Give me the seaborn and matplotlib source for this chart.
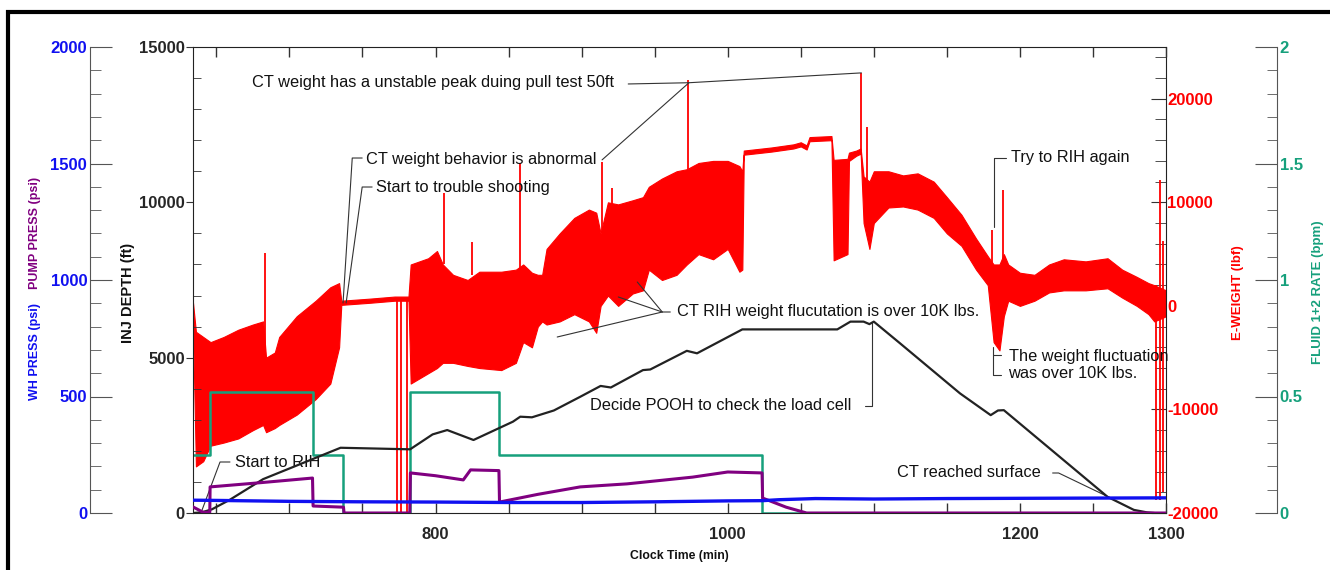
#!/usr/bin/env python3
"""
Coiled tubing run log: injector depth, E-weight, pressures and fluid rate vs clock time
"""

import matplotlib
matplotlib.use('Agg')
import matplotlib.pyplot as plt
import seaborn as sns
from matplotlib.ticker import MultipleLocator
from matplotlib.patches import Rectangle

# ---- values (time in minutes) ----
depth_t = [634, 640, 647, 659, 682, 735, 782.6, 798, 808, 826, 853, 858, 866, 881, 899, 913,
           920, 942, 947, 972, 979, 1010, 1075, 1084, 1093, 1097, 1100, 1118, 1159, 1180,
           1185, 1189, 1260, 1278, 1287, 1292]
depth_ft = [0, 20, 120, 420, 1090, 2100, 2050, 2530, 2670, 2350, 2940, 3100, 3080, 3300, 3740, 4090,
            4040, 4600, 4620, 5220, 5140, 5910, 5910, 6160, 6160, 6080, 6160, 5460, 3850, 3150,
            3300, 3310, 520, 100, 20, 0]

wh_t = [634, 650, 700, 750, 800, 850, 900, 950, 1000, 1024, 1035, 1060, 1100, 1150, 1200, 1250, 1300]
wh_psi = [55, 54, 50, 48, 47, 45, 45, 48, 52, 53, 57, 62, 60, 62, 63, 64, 65]

pump_t = [634, 641, 645.5, 645.7, 680, 715.8, 716.2, 737, 737.4, 782.4, 782.8, 800, 819, 824,
          843.4, 843.8, 870, 899, 931, 976, 1000, 1023.5, 1023.9, 1040, 1054, 1300]
pump_psi = [26, 3, 3, 112, 130, 150, 30, 25, 0, 0, 172, 160, 142, 185,
            182, 47, 80, 112, 125, 154, 176, 172, 64, 25, 0, 0]

fluid_t = [634, 645.6, 716, 737, 782.6, 843.6, 1023.7, 1300]
fluid_bpm = [0.25, 0.52, 0.25, 0.0, 0.52, 0.25, 0.0, 0.0]

# E-weight: envelope of the fluctuating signal (lbf)
w_t = [634, 636, 641, 646, 655, 665, 675, 682, 684, 690, 693, 705, 718, 728, 734, 735.5,
       755, 772, 781.5, 783, 795, 801, 805, 812, 822, 830, 845, 855, 860, 866, 870, 873,
       876, 885, 895, 905, 910, 913, 918, 925, 935, 942, 946, 955, 965, 972, 980, 990,
       1000, 1008, 1010, 1011, 1030, 1045, 1050, 1054, 1056, 1071, 1072.5, 1082, 1083,
       1088, 1091, 1093, 1097, 1100, 1110, 1120, 1130, 1141, 1150, 1160, 1170, 1178,
       1182, 1186, 1189, 1192, 1200, 1210, 1220, 1230, 1245, 1260, 1270, 1280, 1288,
       1292, 1300]
w_hi = [300, -2500, -3000, -3500, -3000, -2300, -1800, -1500, -5000, -4500, -3000, -1000,
        500, 1800, 2200, 500, 700, 900, 900, 4000, 4600, 5300, 4000, 3000, 2500, 3300,
        3300, 3500, 4000, 3200, 3000, 3000, 5500, 7000, 8500, 9300, 9000, 7000, 10000,
        9800, 10200, 10500, 11500, 12300, 13000, 13200, 13800, 14000, 14000, 13500,
        13000, 15000, 15300, 15600, 15800, 15500, 16300, 16400, 14100, 14200, 14800,
        15000, 15200, 12500, 12000, 13000, 13000, 12600, 12800, 12000, 10500, 8800,
        6500, 4800, 4000, 4000, 5000, 4000, 3200, 3000, 4000, 4500, 4300, 4600, 3500,
        2800, 2200, 2000, 1500]
w_lo = [-2000, -15500, -15000, -13500, -13200, -12800, -12000, -11500, -12200, -11800,
        -11500, -10500, -9000, -7500, -4000, 100, 300, 500, 500, -7500, -6500, -6000,
        -5500, -5500, -5800, -6000, -6200, -5500, -3500, -4000, -2000, -1500, -1800,
        -1500, -800, -1500, -2600, 0, 1000, 0, 1200, 1500, 3500, 2500, 3000, 4000,
        5000, 4500, 5500, 3300, 3500, 14600, 14900, 15200, 15400, 15100, 15900, 16000,
        4400, 5000, 14000, 14500, 14700, 8000, 5500, 8000, 9500, 9600, 9300, 8500, 7000,
        5800, 3500, 2000, -3500, -4300, -1000, 500, 0, 500, 1300, 1500, 1500, 1700, 800,
        0, -800, -1500, -1000]

# isolated E-weight spikes
spike_t = [683.3, 773.5, 776.5, 780.8, 805.5, 824.8, 857.5, 914, 921, 973, 1091.5, 1095.5,
           1181, 1188.5, 1293, 1296, 1298]
spike_lo = [-5000, -19900, -19900, -19900, 4000, 3000, 3500, 7000, 9500, 13200, 15000, 12000,
            3000, 4500, -18700, -18700, -18000]
spike_hi = [5100, 800, 800, 800, 10900, 6200, 13800, 13900, 11400, 21800, 22500, 17300,
            7300, 11200, 2000, 12200, 6300]

BLUE = '#1010f0'
PURPLE = '#800080'
TEAL = '#16a07c'
RED = '#ff0000'
GRAY = '#555555'


def main():
    sns.set_style('ticks')
    plt.rcParams['font.family'] = ['Liberation Sans', 'DejaVu Sans']
    plt.rcParams['axes.unicode_minus'] = False

    fig = plt.figure(figsize=(13.3, 5.7), dpi=100)
    ax = fig.add_axes([193 / 1330, 57 / 570, 973 / 1330, 466 / 570])
    axw = ax.twinx()
    axf = ax.twinx()
    axp = ax.twinx()
    for z, a in enumerate([axw, axf, ax, axp]):
        a.set_zorder(z + 1)
        a.patch.set_visible(False)

    # E-weight (red)
    axw.fill_between(w_t, w_lo, w_hi, color=RED, lw=0.8, edgecolor=RED)
    axw.vlines(spike_t, spike_lo, spike_hi, color=RED, lw=1.3)

    # fluid rate (teal)
    sns.lineplot(x=fluid_t, y=fluid_bpm, ax=axf, color=TEAL, lw=1.8,
                 estimator=None, sort=False, drawstyle='steps-post')

    # injector depth (black)
    sns.lineplot(x=depth_t, y=depth_ft, ax=ax, color='#222222', lw=1.6,
                 estimator=None, sort=False)

    # pressures
    sns.lineplot(x=pump_t, y=pump_psi, ax=axp, color=PURPLE, lw=2.2,
                 estimator=None, sort=False)
    sns.lineplot(x=wh_t, y=wh_psi, ax=axp, color=BLUE, lw=2.4,
                 estimator=None, sort=False)

    # ---- axes ----
    ax.set_xlim(634, 1300)
    ax.set_ylim(0, 15000)
    axw.set_ylim(-20000, 25000)
    axf.set_ylim(0, 2)
    axp.set_ylim(0, 2000)

    ax.set_xticks([800, 1000, 1200, 1300])
    ax.xaxis.set_minor_locator(MultipleLocator(50))
    ax.tick_params(axis='x', which='both', direction='in', top=True, bottom=True,
                   length=7, width=1, color='#333333', pad=10, labelsize=12)
    ax.set_yticks([0, 5000, 10000, 15000])
    ax.yaxis.set_minor_locator(MultipleLocator(1000))
    ax.tick_params(axis='y', which='major', direction='out', length=5, pad=1,
                   labelsize=12, color='#333333')
    ax.tick_params(axis='y', which='minor', direction='in', length=6, color='#333333')
    ax.spines['right'].set_visible(False)
    for s in ['left', 'top', 'bottom']:
        ax.spines[s].set_color('#222222')

    axw.set_yticks([-20000, -10000, 0, 10000, 20000])
    axw.yaxis.set_minor_locator(MultipleLocator(2000))
    axw.tick_params(axis='y', which='major', direction='in', length=11, pad=1,
                    labelsize=12, labelcolor=RED, color='#333333')
    axw.tick_params(axis='y', which='minor', direction='in', length=8, color='#333333')

    axf.spines['right'].set_position(('axes', 1.1141))
    axf.set_yticks([0, 0.5, 1, 1.5, 2])
    axf.set_yticklabels(['0', '0.5', '1', '1.5', '2'])
    axf.yaxis.set_minor_locator(MultipleLocator(0.1))
    axf.tick_params(axis='y', which='major', direction='in', length=16, pad=2,
                    labelsize=12, labelcolor=TEAL, color=GRAY)
    axf.tick_params(axis='y', which='minor', direction='in', length=7, color=GRAY)
    axf.spines['right'].set_color(GRAY)

    axp.yaxis.tick_left()
    axp.spines['left'].set_position(('axes', -0.1059))
    axp.spines['left'].set_visible(True)
    axp.spines['left'].set_color(GRAY)
    axp.set_yticks([0, 500, 1000, 1500, 2000])
    axp.yaxis.set_minor_locator(MultipleLocator(100))
    axp.tick_params(axis='y', which='major', direction='in', length=16, pad=2,
                    labelsize=12, labelcolor=BLUE, color=GRAY)
    axp.tick_params(axis='y', which='minor', direction='in', length=8, color=GRAY)

    for a in [axw, axf, axp]:
        for s in ['top', 'bottom']:
            a.spines[s].set_visible(False)
    axw.spines['left'].set_visible(False)
    axf.spines['left'].set_visible(False)
    axp.spines['right'].set_visible(False)
    axw.spines['right'].set_color('#222222')

    for a in [ax, axw, axf, axp]:
        a.set_xlabel('')
        a.set_ylabel('')
        for lbl in a.get_xticklabels() + a.get_yticklabels():
            lbl.set_fontweight('bold')

    # axis titles
    lab = dict(transform=ax.transAxes, rotation=90, ha='center', va='center',
               fontweight='bold')
    ax.text(-0.1624, 0.3476, 'WH PRESS (psi)', color=BLUE, fontsize=9, **lab)
    ax.text(-0.1624, 0.6009, 'PUMP PRESS (psi)', color=PURPLE, fontsize=9, **lab)
    ax.text(-0.0668, 0.4721, 'INJ DEPTH (ft)', color='#111111', fontsize=10.5, **lab)
    ax.text(1.0740, 0.4721, 'E-WEIGHT (lbf)', color=RED, fontsize=9.5, **lab)
    ax.text(1.1562, 0.4742, 'FLUID 1+2 RATE (bpm)', color=TEAL, fontsize=9.5, **lab)
    ax.text(0.4995, -0.0923, 'Clock Time (min)', transform=ax.transAxes, ha='center',
            va='center', fontsize=8.8, fontweight='bold', color='#111111')

    # ---- annotations (in time / E-weight units) ----
    notes = [
        ('CT weight has a unstable peak duing pull test 50ft', 674.4, 21525),
        ('CT weight behavior is abnormal', 752.5, 14090),
        ('Start to trouble shooting', 759.3, 11385),
        ('CT RIH weight flucutation is over 10K lbs.', 965.5, -590),
        ('Start to RIH', 662.8, -15170),
        ('Decide POOH to check the load cell', 905.9, -9667),
        ('Try to RIH again', 1193.6, 14282),
        ('The weight fluctuation\nwas over 10K lbs.', 1192.2, -5708),
        ('CT reached surface', 1116.2, -16137),
    ]
    leaders = [
        [(931.9, 21430), (973.5, 21550), (1091.5, 22500)],
        [(914, 14100), (973.5, 21550)],
        [(749.8, 14280), (743.0, 14280), (736.7, 280)],
        [(756.6, 11480), (749.8, 11480), (738.8, 280)],
        [(960.7, -590), (955.2, -590), (883.3, -3004)],
        [(955.2, -590), (925.1, 860)],
        [(955.2, -590), (938.1, 2307)],
        [(659.3, -15075), (652.5, -15075), (640.2, -19710)],
        [(1094.3, -9667), (1099.1, -9667), (1099.1, -1517)],
        [(1190.2, 14282), (1182.6, 14282), (1182.6, 7619)],
        [(1187.4, -4742), (1181.9, -4742)],
        [(1181.9, -3970), (1181.9, -6673), (1187.4, -6673)],
        [(1222.4, -16137), (1226.5, -16137), (1262.1, -18551)],
    ]
    for text, tx, ty in notes:
        axw.text(tx, ty, text, ha='left', va='center', fontsize=11.8,
                 color='#111111', linespacing=1.15, zorder=10)
    for pts in leaders:
        xs, ys = zip(*pts)
        axw.plot(xs, ys, color='#333333', lw=0.8, zorder=9)

    # outer frame of the original screenshot
    fig.add_artist(Rectangle((8 / 1330, -0.5), 2, 0.5 + (1 - 12 / 570),
                             transform=fig.transFigure, fill=False, lw=3, ec='black'))

    plt.savefig('out.png', dpi=100)
    plt.close()


if __name__ == "__main__":
    main()
